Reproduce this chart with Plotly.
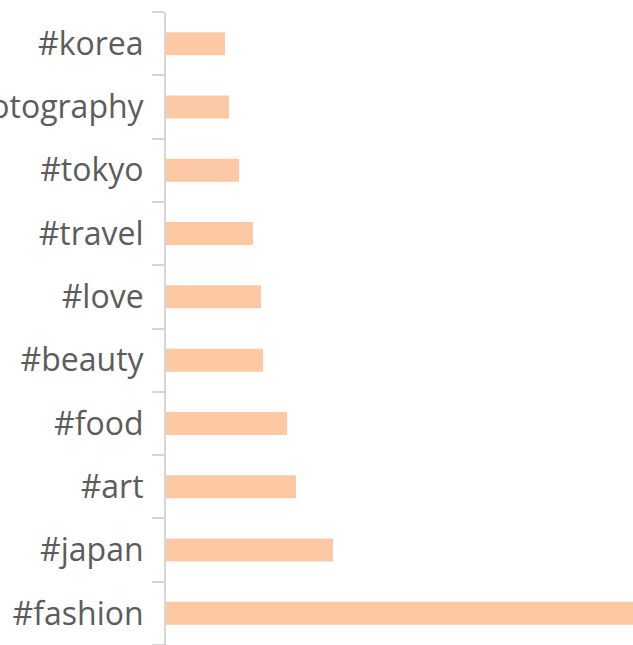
import plotly.graph_objects as go

categories = ["#fashion", "#japan", "#art", "#food", "#beauty", "#love",
              "#travel", "#tokyo", "#photography", "#korea"]
values = [520, 167, 130, 121, 97, 95, 87, 73, 63, 59]

fig = go.Figure(go.Bar(
    x=values, y=categories, orientation="h",
    marker=dict(color="#fdc9a5", line=dict(width=0)),
    hoverinfo="x+y",
))

fig.update_layout(
    width=633, height=645,
    margin=dict(l=166, r=0, t=12, b=0, pad=0),
    plot_bgcolor="white", paper_bgcolor="white",
    bargap=0.637,
    showlegend=False,
    font=dict(family="Open Sans", color="#5c5c5c"),
)
fig.update_xaxes(range=[0, 467], showticklabels=False, showgrid=False,
                 zeroline=False, showline=False, fixedrange=True)
fig.update_yaxes(
    type="category", categoryorder="array", categoryarray=categories,
    range=[-0.5, 9.5],
    showline=True, linecolor="#d6d6d6", linewidth=2,
    ticks="outside", ticklen=12, tickwidth=2, tickcolor="#d6d6d6",
    tickson="boundaries",
    tickfont=dict(family="Open Sans", size=32, color="#5c5c5c"),
    ticklabelstandoff=14,
    showgrid=False, zeroline=False, automargin=False,
)

fig.write_html(
    "out.html",
    config={"displayModeBar": False},
    post_script="document.body.style.margin='0';"
                "document.documentElement.style.overflow='hidden';",
)
